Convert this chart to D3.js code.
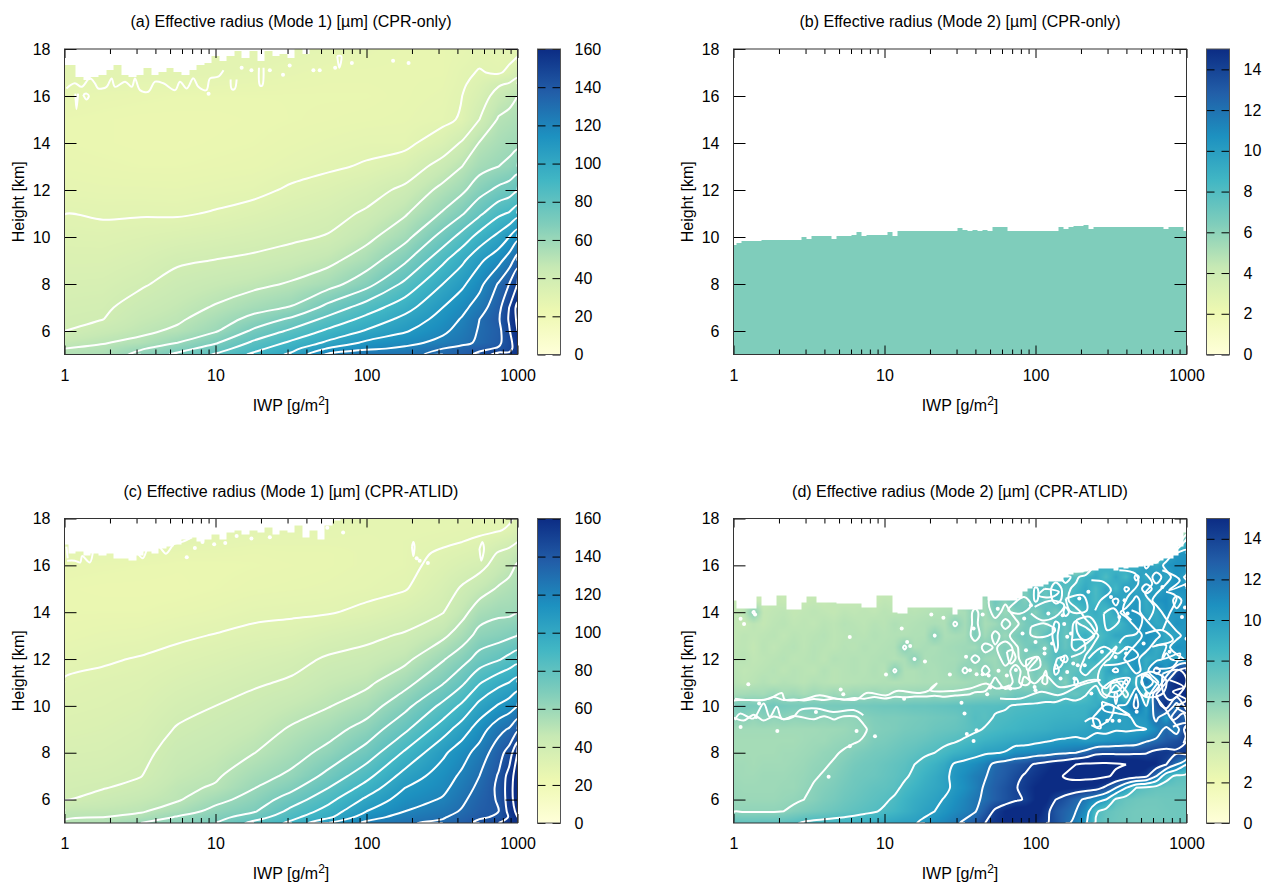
<!DOCTYPE html>
<html>
<head>
<meta charset="utf-8">
<script src="https://cdn.jsdelivr.net/npm/d3@7"></script>
<style>
  body { margin: 0; background: #fff; }
  svg { display: block; }
  text { font-family: "Liberation Sans", Arial, sans-serif; fill: #000; }
</style>
</head>
<body>
<svg id="chart" width="1263" height="883"></svg>
<script>
const paletteColors = ['#ffffd9', '#edf8b1', '#c7e9b4', '#7fcdbb', '#41b6c4', '#1d91c0', '#225ea8', '#0c2c84']

const majorIwp = [1, 10, 100, 1000]
const minorIwp = [2, 3, 4, 5, 6, 7, 8, 9, 20, 30, 40, 50, 60, 70, 80, 90, 200, 300, 400, 500, 600, 700, 800, 900]
const heightTicks = [6, 8, 10, 12, 14, 16, 18]
const mode1BarTicks = [0, 20, 40, 60, 80, 100, 120, 140, 160]
const mode2BarTicks = [0, 2, 4, 6, 8, 10, 12, 14]
const mode1Levels = [30, 40, 50, 60, 70, 80, 90, 100, 110, 120, 130, 140, 150, 160]
const mode2Levels = [6, 8, 10, 12, 14, 16]

// mode 1 grids: one list per IWP column, heights going up
const iwpMode1 = [1, 1.8, 3.2, 5.6, 10, 18, 32, 56, 100, 180, 320, 430, 560, 750, 880, 1000]
const heightsMode1 = [5, 5.25, 5.5, 6, 6.5, 7, 8, 9, 10, 11, 12, 13, 14, 15, 16, 16.5, 17, 17.5, 18]

const radiusA = [
  [52, 50, 46.7, 40, 39, 38, 36, 34, 32, 29.9, 27.5, 26, 25, 25, 27, 28, 29, 29, 29],
  [54, 52, 49.5, 44.5, 39.9, 38.7, 36.4, 34, 31.7, 29.4, 27, 25.5, 24.5, 24.5, 26, 28, 29, 29, 29],
  [63, 59, 52.5, 48, 45.7, 43.3, 39, 35.8, 32.7, 29.5, 27, 25, 24, 24, 25.5, 28, 29, 29, 29],
  [72, 66, 60, 51.7, 48.5, 46.6, 42.9, 38.9, 34, 29.3, 26.8, 25, 24, 24, 25, 28, 29, 29, 29],
  [81, 75, 69, 59, 55, 50.8, 45.4, 40.2, 35.3, 30.5, 27.5, 25.5, 24.5, 24, 25, 27, 29, 29, 29],
  [92, 87, 82, 72, 63, 56.5, 47.6, 41.6, 36.8, 32.5, 28.3, 26, 25, 24.5, 25, 26.5, 28, 29, 29],
  [102, 97, 92, 82, 72, 60.7, 51, 44, 38.5, 34.8, 31, 27.5, 26, 25, 25, 26, 27, 28, 29],
  [122, 111, 102, 92, 83, 73.4, 56, 47.6, 40.6, 36.9, 33, 29, 27, 25.5, 25, 25.5, 26, 27, 28],
  [128, 118, 112, 101, 93, 85, 66.3, 55, 47.4, 41.2, 36.3, 30.7, 28, 26, 25, 25.5, 26, 26.5, 27],
  [128, 122, 117, 109, 103, 96, 82.4, 68.4, 56.9, 49, 42, 34.2, 28, 26.5, 26, 26, 26, 26, 26],
  [132, 130, 123, 118, 114, 110, 100, 88, 73.8, 61, 52.8, 43.8, 34.4, 28, 27, 26.5, 26, 26, 26],
  [137, 134, 127, 124, 121, 117, 108, 98, 84, 69, 58, 50, 41, 31, 30, 29, 28.5, 27.5, 27],
  [142, 138, 132, 131, 130, 125, 117, 108, 94, 78, 66, 56.5, 50.5, 40, 35, 33, 30.5, 29, 28],
  [155, 141, 138, 137, 139, 137, 131, 117, 103, 88, 72.5, 60, 55, 51, 44, 39, 29, 28, 28],
  [152, 147, 146, 149, 151, 150, 140, 125, 110, 91, 75, 62, 57, 52.5, 47, 41, 32, 29, 28],
  [158, 155, 157, 160, 162, 163, 150, 135, 117, 96, 79, 65.5, 58, 54, 50, 43, 37.5, 31, 28]
]

const radiusC = [
  [51, 49, 47.5, 39.5, 38.5, 37.5, 35.5, 33.5, 32, 30.6, 28, 26, 25, 24.5, 26, 28, 29, 29, 29],
  [52, 50, 47.5, 43, 39.6, 38, 36, 34.3, 32.7, 31.5, 29.3, 27, 25, 24, 25.5, 28, 29, 29, 29],
  [60, 53, 49, 46, 42.5, 39.8, 37.8, 35.9, 34, 32.3, 30.4, 27.5, 25, 24, 25, 27.5, 29, 29, 29],
  [65, 61, 55, 49, 48, 46, 43.5, 40.6, 37.6, 34.8, 31.9, 29, 26, 24, 24.5, 26, 29, 29, 29],
  [70, 66.5, 63, 57, 51, 48.8, 45.9, 43, 40, 36.8, 33.5, 30.3, 27, 25, 24.5, 26, 28, 29, 29],
  [83, 75, 69, 64, 59.7, 56.3, 49.8, 45.9, 42.5, 39, 35.5, 31.7, 28.5, 26, 25, 25.5, 27, 29, 29],
  [92, 87.5, 83, 75, 67.7, 62, 56, 51, 46, 41, 37.5, 32.6, 29, 26.5, 25.5, 26, 27, 28.5, 29],
  [110, 98, 94, 87, 80, 73, 63, 56, 49.5, 45.3, 41, 35.5, 29.5, 27, 26, 26, 27, 28, 28.5],
  [122, 116, 110, 102, 94, 87, 74, 64, 55, 48, 43, 38, 31.5, 28, 27, 27, 27, 27.5, 28],
  [129, 124, 120, 115, 110, 104, 91.5, 78, 67, 56.5, 47.6, 41, 35, 29.5, 28, 28, 28, 27.5, 28],
  [132, 129, 126, 121, 117.5, 115, 108, 95.5, 82.5, 69, 59, 48, 39.6, 36, 32.5, 31, 29, 28, 28],
  [137, 134, 131, 128, 125, 122, 116, 105, 92, 78, 66, 55, 47, 41, 35, 32.5, 30, 28.5, 28],
  [142, 139, 137, 135, 132.5, 130, 124, 115, 103, 89, 74, 63.5, 55, 46, 37, 34, 31, 29, 28],
  [150, 141, 140, 141, 142, 141, 136, 127, 111, 97, 79, 66, 58, 51, 44, 41, 35, 29.5, 28],
  [158, 151, 153, 155, 155, 154, 144, 131, 115, 100, 83, 68, 58, 53, 47, 43, 37, 31, 29],
  [158, 160, 163, 166, 167, 166, 160, 138, 120, 104, 86, 70, 59.5, 55, 51, 47, 40, 35, 31]
]

// highest height with data, one reading every 0.05 decade of IWP
const topEdgeA = [17.3, 17.3, 16.8, 16.7, 16.8, 16.9, 17.1, 17.3, 16.9, 16.8, 16.9, 17.2, 16.9, 17, 17.2, 17, 16.9, 17.1, 17.3, 17.4,
  17.7, 17.5, 17.7, 17.9, 17.6, 17.9, 17.5, 17.9, 17.7, 17.8, 17.6, 18, 17.8, 18, 18, 18, 18, 18, 18, 18,
  18, 18, 18, 18, 18, 18, 18, 18, 18, 18, 18, 18, 18, 18, 18, 18, 18, 18, 18, 18, 18]
const topEdgeC = [16.9, 16.5, 16.6, 16.4, 16.5, 16.4, 16.5, 16.3, 16.3, 16.2, 16.4, 16.6, 16.5, 16.7, 16.8, 16.9, 17.1, 17.2, 17, 17.1,
  17.3, 17.1, 17.4, 17.5, 17.3, 17.5, 17.4, 17.6, 17.3, 17.5, 17.4, 17.7, 17.2, 17.5, 17.1, 17.7, 17.9, 18, 18, 18,
  18, 18, 18, 18, 18, 18, 18, 18, 18, 18, 18, 18, 18, 18, 18, 18, 18, 18, 18, 18, 18]

// small wavy contour pieces and specks the grids are too coarse for, [IWP, height]
const ripplesA = [
  [[1.03, 16.32], [1.17, 16.54], [1.3, 16.39], [1.47, 16.75], [1.59, 16.54], [1.67, 16.32], [1.9, 16.39], [2.05, 16.75], [2.16, 16.39], [2.52, 16.61], [2.79, 16.39], [2.93, 16.75], [3.16, 16.25], [3.59, 16.18], [3.98, 16.61], [4.52, 16.54], [5.4, 16.25], [5.82, 16.61], [6.45, 16.32], [7.13, 16.75], [7.7, 16.39], [8.7, 16.25], [9.2, 16.75], [10.4, 16.82], [11.3, 17.1]],
  [[1.18, 16.1], [1.2, 15.45], [1.23, 16.1]],
  [[1.33, 16.05], [1.4, 16.1], [1.45, 16], [1.4, 15.85], [1.33, 16.05]],
  [[12.6, 16.7], [12.8, 16.3], [13.4, 16.3], [13.8, 16.7]],
  [[19.4, 17.2], [19.7, 16.45], [20.4, 16.45], [20.8, 17.2]],
  [[64, 17.7], [66, 17.2], [68, 17.7], [64, 17.7]]
]
const specksA = [[9, 16.1], [14.9, 17.2], [17.3, 17.1], [22.9, 17.1], [28, 16.9], [31, 17.3], [44.5, 17.1], [49, 17.1], [62, 17.2], [80, 17.4], [150, 17.5], [190, 17.4]]
const ripplesC = [
  [[1.04, 16.2], [1.17, 16.2], [1.27, 16.12], [1.31, 16.4], [1.47, 16.12], [1.55, 16.7]],
  [[1.03, 16.8], [1.05, 16.3]],
  [[3, 16.6], [3.3, 16.3], [3.6, 16.75], [4.2, 16.8], [4.7, 16.5], [5.3, 16.9], [6, 17], [7, 17.2]],
  [[560, 16.7], [575, 16.2], [600, 16.7], [585, 17], [560, 16.7]],
  [[200, 16.8], [204, 16.4], [208, 16.8], [204, 17], [200, 16.8]]
]
const specksC = [[7.3, 16.74], [6.45, 16.35], [8.2, 17], [9.8, 16.9], [11.6, 16.95], [13.8, 17.25], [17.3, 17.15], [22.9, 17.2], [215, 16.3], [225, 16.2], [255, 16.1], [55, 17.6], [70, 17.4]]

// panel b is almost one flat value
const iwpB = [1, 1000]
const heightsB = [5, 18]
const radiusB = [[6.42, 6.42], [6.42, 6.42]]
const topEdgeB = [9.66, 9.75, 9.83, 9.84, 9.84, 9.83, 9.86, 9.88, 9.88, 9.88, 9.89, 9.89, 9.87, 9.86, 10, 9.9, 10.03, 10.03, 10.03, 10.03,
  9.92, 10.03, 10.05, 10.06, 10.08, 10.2, 10.06, 10.07, 10.08, 10.08, 10.07, 10.22, 10.06, 10.27, 10.27, 10.26, 10.26, 10.26, 10.27, 10.26,
  10.26, 10.26, 10.25, 10.24, 10.27, 10.4, 10.28, 10.27, 10.28, 10.27, 10.28, 10.27, 10.44, 10.44, 10.42, 10.26, 10.26, 10.26, 10.26, 10.27,
  10.26, 10.26, 10.26, 10.26, 10.27, 10.44, 10.35, 10.44, 10.45, 10.46, 10.5, 10.33, 10.43, 10.43, 10.43, 10.43, 10.43, 10.43, 10.43, 10.43,
  10.43, 10.43, 10.43, 10.43, 10.43, 10.43, 10.33, 10.42, 10.44, 10.42, 10.27]

// panel d: one list per height, top of the plot first, 46 IWP columns each
const iwpD = [1, 1.17, 1.36, 1.58, 1.85, 2.15, 2.51, 2.93, 3.41, 3.98, 4.64, 5.41, 6.31, 7.36, 8.58, 10, 11.7, 13.6, 15.8, 18.5, 21.5, 25.1, 29.3, 34.1, 39.8, 46.4, 54.1, 63.1, 73.6, 85.8, 100, 117, 136, 158, 185, 215, 251, 293, 341, 398, 464, 541, 631, 736, 858, 1000]
const heightsD = [5, 5.5, 6, 6.5, 7, 7.5, 8, 8.5, 9, 9.5, 10, 10.5, 11, 11.5, 12, 12.5, 13, 13.5, 14, 14.5, 15, 15.5, 16, 16.5, 17, 17.5, 18]
const radiusD = [
  [4.3, 4.3, 4.3, 4.3, 4.3, 4.3, 4.3, 4.3, 4.3, 4.3, 4.3, 4.3, 4.3, 4.3, 4.3, 4.3, 4.3, 4.3, 4.3, 4.3, 4.3, 4.3, 4.3, 4.3, 4.3, 4.3, 4.3, 4.3, 4.3, 4.3, 4.3, 4.3, 4.3, 4.3, 4.3, 4.3, 4.3, 4.3, 4.3, 4.3, 4.3, 4.3, 4.3, 4.3, 4.3, 4.3],
  [4.3, 4.3, 4.3, 4.3, 4.3, 4.3, 4.3, 4.3, 4.3, 4.3, 4.3, 4.3, 4.3, 4.3, 4.3, 4.3, 4.3, 4.3, 4.3, 4.3, 4.3, 4.3, 4.3, 4.3, 4.3, 4.3, 4.3, 4.3, 4.3, 4.3, 4.3, 4.3, 4.3, 4.3, 4.3, 4.3, 4.3, 4.3, 4.3, 4.3, 4.3, 4.3, 4.3, 4.3, 4.3, 4.3],
  [4.3, 4.3, 4.3, 4.3, 4.3, 4.3, 4.3, 4.3, 4.3, 4.3, 4.3, 4.3, 4.3, 4.3, 4.3, 4.3, 4.3, 4.3, 4.3, 4.3, 4.3, 4.3, 4.3, 4.3, 4.3, 4.3, 4.3, 4.3, 4.3, 4.3, 4.3, 4.3, 4.3, 4.3, 4.3, 4.3, 4.3, 4.3, 4.3, 4.3, 4.3, 4.3, 4.3, 4.3, 4.3, 9],
  [4.3, 4.3, 4.3, 4.3, 4.3, 4.3, 4.3, 4.3, 4.3, 4.3, 4.3, 4.3, 4.3, 4.3, 4.3, 4.3, 4.3, 4.3, 4.3, 4.3, 4.3, 4.3, 4.3, 4.3, 4.3, 4.3, 4.3, 4.3, 4.3, 4.3, 4.3, 4.3, 4.3, 4.3, 4.3, 4.3, 4.3, 4.3, 4.3, 4.3, 4.3, 4.3, 4.3, 9.2, 10.3, 10.5],
  [4.3, 4.3, 4.3, 4.3, 4.3, 4.3, 4.3, 4.3, 4.3, 4.3, 4.3, 4.3, 4.3, 4.3, 4.3, 4.3, 4.3, 4.3, 4.3, 4.3, 4.3, 4.3, 4.3, 4.3, 4.3, 4.3, 4.3, 4.3, 4.3, 4.3, 4.3, 4.3, 4.3, 4.3, 4.3, 4.3, 8.5, 9.2, 8.3, 9.5, 8.6, 10.3, 9.2, 10.4, 10.7, 10.8],
  [4.3, 4.3, 4.3, 4.3, 4.3, 4.3, 4.3, 4.3, 4.3, 4.3, 4.3, 4.3, 4.3, 4.3, 4.3, 4.3, 4.3, 4.3, 4.3, 4.3, 4.3, 4.3, 4.3, 4.3, 4.3, 4.3, 4.3, 4.3, 6.6, 7.3, 6.7, 8.2, 7.5, 8.4, 7.6, 8.8, 9.2, 8.1, 9.4, 8.4, 10.3, 9.2, 10.5, 9.5, 10.6, 9.8],
  [4.3, 4.3, 4.3, 4.3, 4.3, 4.3, 4.3, 4.3, 4.3, 4.3, 4.3, 4.3, 4.3, 4.3, 4.3, 4.3, 4.3, 4.3, 4.3, 4.3, 4.3, 4.3, 4.3, 4.5, 5.5, 6.3, 5.6, 6.6, 7.2, 6.5, 8.2, 7.3, 8.6, 7.6, 8.4, 9.3, 8.2, 9.6, 8.5, 10.3, 9.3, 10.5, 9.6, 10.4, 10.7, 10.6],
  [4.3, 4.4, 4.3, 4.2, 4.4, 4.3, 4.5, 4.3, 4.4, 4.3, 4.5, 4.3, 4.4, 4.4, 4.3, 4.5, 4.4, 4.4, 4.5, 4.6, 4.6, 4.7, 4.6, 6.2, 5.3, 5.4, 7, 6.2, 7.3, 6.4, 8.2, 7.1, 8.4, 7.6, 8.9, 9.2, 8.3, 9.4, 10.3, 9.1, 10.4, 9.2, 10.5, 10.8, 9.6, 10.4],
  [4.4, 4.6, 6.2, 4.4, 4.5, 4.6, 4.4, 4.5, 4.6, 4.5, 4.4, 4.6, 4.5, 4.6, 4.5, 4.7, 4.6, 4.8, 4.7, 4.8, 4.9, 5, 5.1, 5.2, 6.3, 5.3, 6.5, 5.6, 6.4, 7.1, 6.2, 7.7, 6.8, 8.3, 7.4, 8.6, 9.1, 8.2, 9.6, 10.5, 10.4, 9.4, 9.3, 10.6, 10.2, 10.8],
  [4.5, 4.3, 4.6, 4.4, 4.6, 4.7, 4.5, 4.6, 4.5, 4.7, 4.6, 4.8, 4.7, 4.6, 4.8, 4.7, 5, 4.8, 4.9, 5, 5.1, 5, 6.2, 5.3, 6.3, 5.2, 5.5, 6.3, 5.7, 6.6, 7.2, 6.4, 8.3, 7.4, 8.2, 7.6, 8.5, 9.1, 8.2, 9.3, 10.4, 10.3, 9.4, 9.6, 10.6, 10.3],
  [4.4, 4.6, 4.5, 4.6, 4.7, 4.5, 4.7, 4.6, 4.7, 4.8, 4.6, 4.7, 4.8, 4.7, 4.9, 4.8, 4.9, 4.9, 5, 5, 6.1, 5.1, 5.2, 5.3, 6.5, 5.4, 6.3, 5.6, 6.5, 6.9, 6.1, 7.6, 8.2, 7.2, 8.4, 9, 7.8, 8.6, 9.5, 9.4, 9.2, 10.6, 10.4, 9.3, 9.6, 10.5],
  [4.5, 4.6, 4.4, 4.7, 4.5, 4.7, 4.8, 4.6, 4.8, 4.7, 4.6, 4.8, 4.7, 4.9, 4.8, 4.9, 5, 6.2, 5, 5.2, 5.1, 5.3, 5.4, 5.5, 5.4, 6.3, 5.9, 6.4, 5.8, 6.6, 7.1, 6.3, 8.2, 7.3, 8.4, 7.6, 8.3, 9.2, 7.9, 9.3, 10.3, 10.5, 9.2, 9.6, 10.7, 10.4],
  [4.6, 4.7, 4.5, 4.6, 4.7, 4.8, 4.6, 4.7, 4.8, 4.6, 4.9, 4.8, 4.9, 4.8, 4.9, 5, 4.9, 5.1, 6.1, 5.1, 5.2, 5.3, 5.3, 5.5, 6.3, 5.6, 5.5, 6.4, 5.7, 6.5, 5.8, 7, 7.7, 8.3, 6.9, 8.2, 9, 7.7, 8.6, 10.3, 10.4, 9.1, 9.4, 10.4, 9.5, 10.2],
  [4.7, 4.5, 4.6, 4.7, 4.8, 4.6, 4.8, 4.7, 4.6, 4.9, 4.7, 4.8, 4.9, 4.8, 5, 4.8, 6.2, 5, 5, 5.2, 5.1, 5.3, 5.4, 6.2, 5.4, 6.3, 5.6, 5.7, 6.3, 5.7, 6.8, 6, 8.4, 7.2, 7.5, 8.6, 7.4, 9.2, 10.4, 8.6, 10.6, 9.2, 13, 10.3, 14, 15],
  [4.8, 4.6, 4.7, 4.9, 4.7, 4.9, 4.8, 4.7, 4.9, 4.8, 4.7, 4.8, 4.8, 4.9, 4.9, 5, 4.9, 5, 5, 5.1, 5.1, 5.2, 5.2, 5.3, 5.5, 5.4, 6.3, 5.5, 6.2, 5.7, 6.4, 5.8, 7.2, 6.3, 8.3, 7, 7.6, 9, 7.3, 10.5, 8, 12, 9, 14, 15, 16],
  [5.2, 5.3, 5.4, 5.3, 5.7, 5.3, 5.5, 5.2, 5.5, 5.3, 5.6, 5.3, 5.6, 5.5, 5.7, 5.4, 5.7, 5.6, 5.7, 5.7, 5.8, 5.6, 5.8, 5.9, 6.1, 6.2, 6.3, 6.4, 6.9, 7, 6.9, 7.2, 7, 7.6, 7.2, 7.9, 9, 7, 10.5, 7, 12, 7.5, 14, 14, 15, 15],
  [6.6, 6.7, 6.6, 6.7, 6.9, 6.7, 6.6, 6.7, 6.7, 6.7, 6.7, 6.8, 6.8, 6.8, 6.9, 7, 7, 7.1, 7.2, 7.2, 7.3, 7.4, 7.5, 7.6, 7.7, 7.8, 7.8, 7.9, 8.1, 8.2, 8.3, 8.4, 8.5, 8.6, 8.7, 8.8, 9, 10.3, 9.9, 10.4, 12.5, 10, 13, 15, 11, 15],
  [6, 6.2, 5.8, 6.2, 5.9, 6.1, 5.9, 6, 6.1, 5.9, 6.1, 5.9, 5.9, 6.2, 6.4, 6.5, 6.5, 6.6, 6.7, 6.8, 6.9, 7, 7.1, 7.4, 7.9, 7.7, 8.1, 8.2, 8.4, 8.5, 8.6, 8.7, 8.8, 8.9, 8.9, 9, 10.4, 10.2, 9.8, 9.8, 10.2, 10.4, 12.5, 10, 14, 12],
  [5.4, 5.4, 5.4, 5.4, 5.4, 5.4, 5.4, 5.4, 5.4, 5.5, 5.5, 5.6, 5.8, 5.9, 6.3, 6.4, 6.5, 6.7, 6.8, 6.9, 7.1, 7.2, 7.3, 7.5, 7.8, 8.1, 8.3, 8.5, 8.6, 8.8, 8.9, 9, 9.2, 9.3, 9.4, 9.6, 9.9, 9.7, 9.9, 9.8, 9.9, 10, 11, 12.5, 11, 15],
  [5.3, 5.3, 5.3, 5.3, 5.3, 5.3, 5.3, 5.4, 5.5, 5.5, 5.7, 5.8, 5.9, 6.1, 6.5, 6.6, 6.8, 7, 7.1, 7.3, 7.5, 7.7, 7.9, 8.2, 8.5, 8.8, 9, 9.2, 9.4, 9.5, 9.7, 9.9, 10.1, 10.2, 10.3, 10.1, 10.2, 10.5, 10.7, 10.9, 11.1, 11.9, 12.3, 13, 13.5, 14],
  [5.3, 5.3, 5.3, 5.3, 5.3, 5.4, 5.4, 5.5, 5.6, 5.8, 5.9, 6.1, 6.4, 6.6, 6.8, 6.9, 7.1, 7.3, 7.5, 7.8, 8, 8.4, 8.8, 9.1, 9.4, 9.8, 9.9, 10.1, 10.8, 10.9, 11.1, 11.3, 11.6, 11.8, 12, 12.5, 13.6, 13.7, 13.7, 13.7, 13.8, 13.9, 14.5, 14.5, 14.2, 14.5],
  [5.4, 5.4, 5.3, 5.4, 5.4, 5.4, 5.5, 5.6, 5.8, 5.9, 6.1, 6.4, 6.7, 6.9, 7, 7.2, 7.4, 7.6, 8, 8.4, 8.8, 9.3, 10.2, 10.5, 10.9, 11.4, 12.4, 12.8, 13.1, 13.5, 14.2, 14.6, 15, 15.4, 16, 16.3, 16.3, 16.3, 16.2, 16, 15.7, 15.3, 15, 14, 12, 10],
  [5.5, 5.4, 5.4, 5.5, 5.5, 5.5, 5.6, 5.7, 5.9, 6.1, 6.3, 6.6, 6.9, 7, 7.1, 7.3, 7.5, 7.8, 8.3, 8.8, 9.2, 9.7, 10.4, 10.9, 11.5, 11.9, 12.6, 13, 13.6, 14.2, 14.6, 15, 15.5, 16.2, 16.5, 16.5, 16.4, 16.2, 15.7, 15.2, 14.8, 14.3, 12, 8.6, 7.7, 7.5],
  [5.6, 5.5, 5.5, 5.5, 5.5, 5.6, 5.6, 5.8, 6.1, 6.3, 6.5, 6.8, 7, 7.2, 7.4, 7.5, 7.7, 8.3, 8.7, 9.1, 9.4, 9.7, 10.3, 10.8, 11.4, 12.2, 12.8, 13.3, 13.9, 14.4, 15, 15.2, 15.3, 15.2, 15, 14.8, 14.6, 13.6, 12, 10, 8, 7.6, 7.3, 7.2, 7.2, 7.2],
  [5.7, 5.6, 5.6, 5.6, 5.6, 5.7, 5.8, 6, 6.2, 6.5, 6.7, 7, 7.2, 7.4, 7.6, 7.8, 8.2, 8.7, 9.1, 9.4, 9.7, 10.1, 10.7, 11.2, 11.8, 12.2, 12.8, 13.3, 13.8, 14.1, 15, 15.2, 14, 13.3, 12.5, 11.7, 10.9, 10, 7.7, 7.2, 7, 6.9, 6.9, 7, 7, 7.1],
  [5.9, 5.9, 5.9, 5.9, 5.9, 6, 6.3, 6.5, 6.7, 6.9, 7.1, 7.3, 7.5, 7.7, 7.9, 8.2, 8.5, 8.9, 9.3, 9.7, 10, 10.5, 11, 11.4, 11.9, 13, 14.3, 15, 15.5, 15.5, 15.5, 14.5, 13.2, 12.6, 12, 10.9, 8.2, 7.4, 7.1, 6.9, 6.8, 6.8, 6.8, 6.9, 7, 7],
  [7.5, 7.4, 7.4, 7.5, 7.5, 7.6, 7.8, 8.2, 8.4, 8.5, 8.6, 8.7, 8.8, 9, 9.2, 9.4, 9.6, 9.8, 9.9, 10.3, 10.8, 11.2, 11.7, 12.3, 13, 14, 14.6, 15, 15, 15, 14.8, 14.2, 13.4, 12.4, 11.5, 10.2, 7.8, 7.2, 7, 6.9, 6.8, 6.8, 6.9, 6.9, 7, 7]
]
const topEdgeD = [14.5, 14.15, 14.15, 14.15, 14.15, 14.65, 14.3, 14.3, 14.3, 14.7, 14.7, 14.1, 14.1, 14.1, 14.4, 14.65, 14.65, 14.4, 14.4, 14.4,
  14.4, 14.35, 14.35, 14.35, 14.35, 14.35, 14.2, 14.2, 14.2, 14.7, 14.7, 14.7, 14, 13.93, 13.93, 14.2, 14.2, 14.2, 14.2, 14.2,
  14.2, 14.2, 14.2, 14.2, 13.9, 14.1, 14.1, 14.1, 14.1, 14.1, 14.65, 14.5, 14.5, 14.5, 14.5, 14.5, 14.5, 14.6, 14.9, 15,
  15.1, 15.1, 15.2, 15.3, 15.3, 15.3, 15.5, 15.6, 15.7, 15.7, 15.75, 15.8, 15.8, 15.85, 15.85, 15.85, 15.8, 15.9, 15.85, 15.9,
  15.9, 15.95, 16, 16, 16.1, 16.2, 16.3, 16.3, 16.4, 16.8, 17.4]

// panel d wiggles and specks as [log10 IWP, height]
const ripplesD = [
  [[0.01, 9.39], [0.043, 9.67], [0.13, 9.46], [0.2, 10.1], [0.24, 9.53], [0.286, 9.96], [0.32, 9.46], [0.396, 9.53], [0.44, 9.82], [0.55, 9.89], [0.66, 9.74], [0.794, 9.82], [0.86, 9.6]],
  [[0.01, 10.31], [0.13, 10.24], [0.24, 10.31], [0.32, 10.55], [0.34, 10.27], [0.46, 10.27], [0.57, 10.45], [0.68, 10.31], [0.816, 10.27], [0.88, 10.55], [1.015, 10.45], [1.08, 10.64], [1.235, 10.55], [1.3, 10.67], [1.345, 10.95], [1.3, 10.67], [1.455, 10.64], [1.566, 10.74], [1.677, 10.95], [1.74, 10.74], [1.83, 10.88]],
  [[2.06, 15], [2.155, 14.87], [2.11, 14.65], [2.02, 14.72], [2.06, 15]],
  [[2.2, 14.58], [2.315, 14.72], [2.34, 14.08], [2.235, 14.01], [2.2, 14.58]],
  [[2.37, 15.36], [2.45, 15.29], [2.5, 14.94], [2.43, 14.5], [2.395, 14.08]],
  [[2.555, 15.79], [2.66, 15.65], [2.68, 15.22], [2.61, 14.65], [2.58, 14.08], [2.635, 13.66]],
  [[2.727, 15.65], [2.773, 15.22], [2.727, 14.8], [2.785, 14.23], [2.75, 13.66]],
  [[2.84, 15.79], [2.955, 15.36], [2.885, 14.94], [3, 15.22]],
  [[2.865, 14.87], [2.934, 14.65], [2.888, 13.94], [2.842, 13.23]],
  [[2.452, 13.94], [2.52, 14.16], [2.555, 13.66], [2.475, 13.23], [2.452, 13.94]],
  [[2.636, 14.08], [2.705, 13.8], [2.67, 13.09], [2.59, 12.95], [2.555, 12.67]],
  [[2.27, 13.66], [2.36, 13.8], [2.407, 13.23], [2.326, 12.81], [2.28, 13.09], [2.27, 13.66]],
  [[1.994, 14.23], [2.11, 14.5], [2.19, 14.3], [2.13, 13.8], [2.04, 13.66], [1.97, 13.94]],
  [[2.727, 13.09], [2.842, 13.23], [2.91, 12.81], [2.8, 12.59]],
  [[1.97, 13.37], [2.06, 13.52], [2.13, 13.23], [2.06, 12.95], [1.97, 13.02], [1.97, 13.37]],
  [[1.857, 14.37], [1.925, 14.65], [1.97, 14.3], [1.9, 13.94], [1.82, 14.08], [1.857, 14.37]],
  [[1.81, 12.31], [1.845, 12.38], [1.868, 12.02], [1.834, 11.81], [1.81, 12.31]],
  [[1.937, 11.95], [2.017, 12.09], [2.03, 11.67], [1.948, 11.53], [1.937, 11.95]],
  [[2.143, 12.02], [2.189, 12.09], [2.166, 11.67], [2.13, 11.6], [2.143, 12.02]],
  [[2.235, 12.8], [2.315, 12.8], [2.326, 12.38], [2.235, 12.09]],
  [[2.35, 12.02], [2.452, 12.52], [2.544, 12.24], [2.613, 12.52], [2.68, 12.16], [2.567, 11.81], [2.452, 11.74]],
  [[2.773, 12.52], [2.865, 12.59], [2.842, 12.02], [2.957, 12.24], [2.91, 11.67], [2.796, 11.6]],
  [[1.765, 10.81], [1.834, 10.74], [1.9, 10.81], [1.925, 11.24], [1.994, 10.96], [2.063, 11.31], [2.155, 10.81], [2.29, 10.96], [2.36, 11.1], [2.43, 11.1]],
  [[1.765, 10.32], [1.9, 10.32], [2.04, 10.6], [2.155, 10.46], [2.3, 10.89], [2.43, 11.1]],
  [[2.44, 10.74], [2.52, 11.1], [2.625, 11.17], [2.6, 10.81], [2.544, 10.39], [2.45, 10.53], [2.44, 10.74]],
  [[2.5, 10.96], [2.58, 11.03], [2.555, 10.67], [2.5, 10.6], [2.5, 10.96]],
  [[2.67, 11.24], [2.773, 11.45], [2.865, 11.1], [2.842, 10.53], [2.727, 10.39], [2.67, 10.81], [2.67, 11.24]],
  [[2.705, 11.38], [2.82, 10.81], [2.75, 10.53], [2.705, 11.1], [2.705, 11.38]],
  [[2.842, 11.38], [2.957, 11.53], [3, 11.1], [2.957, 10.53], [2.888, 10.25], [2.842, 10.67], [2.842, 11.38]],
  [[2.796, 10.39], [2.865, 9.82], [2.91, 9.4], [2.98, 9.68], [3, 9.25]],
  [[2.888, 11.1], [2.98, 10.81], [2.91, 10.6], [3, 10.25], [2.934, 9.96], [3, 9.68]],
  [[2.91, 9.11], [3, 9.25], [3, 8.83], [2.98, 8.4]],
  [[2.44, 10.18], [2.452, 9.82], [2.544, 9.68], [2.624, 9.61], [2.5, 10.03], [2.44, 10.18]],
  [[2.326, 9.32], [2.37, 9.47], [2.418, 9.4], [2.43, 9.04], [2.37, 9.18]]
]
const specksD = [[0.143, 13.9], [0.047, 13.72], [0.07, 13.5], [0.098, 10.92], [0.77, 12.94], [1.114, 13.3], [1.15, 12.73], [1.17, 12.56], [1.268, 11.9], [1.01, 11.34],
  [1.433, 11.34], [1.31, 13.9], [1.39, 13.76], [1.59, 13.3], [1.65, 13.9], [1.75, 14.15], [1.61, 11.35], [1.65, 11.35], [1.69, 11.3], [1.755, 11.5],
  [1.81, 11.3], [1.566, 11.52], [1.54, 12.1], [0.71, 10.7], [0.727, 10.5], [1.13, 10.3], [1.68, 10.5], [1.7, 10.78], [1.51, 10.13], [1.53, 9.67],
  [1.61, 8.96], [1.59, 8.5], [1.545, 8.8], [0.815, 8.93], [0.937, 8.7], [0.77, 8.28], [0.63, 6.97], [0.047, 9.1], [0.29, 8.93], [0.17, 10.1],
  [0.546, 9.74], [0.15, 9.53], [2.18, 13.87], [2.19, 13.5], [2.29, 14.58], [2.35, 14.87], [2.5, 14.65], [2.59, 14.51], [2.61, 13.94], [2.555, 13.8],
  [2.84, 15.08], [3, 15.15], [2.99, 14.2], [2.235, 13.09], [2.12, 13.3], [1.925, 13.73], [1.914, 13.09], [2.085, 13.94], [1.97, 14.3], [2.97, 13.8],
  [1.937, 12.38], [2, 12.73], [2.06, 12.45], [2.06, 12.24], [2.11, 12.66], [2.21, 12.95], [2.25, 11.81], [2.28, 11.74], [2.326, 11.74], [2.44, 12.31],
  [2.6, 12.45], [2.6, 12.24], [2.53, 12.09], [2.716, 12.66], [2.888, 12.31], [3, 12.87], [1.87, 11.53], [2, 10.67], [1.834, 10.74], [1.994, 10.81],
  [2.166, 11.17], [2.258, 11.17], [2.21, 11.45], [2.37, 10.53], [2.475, 9.37], [2.51, 9.37], [2.555, 9.37], [2.67, 9.75]]

const plotWidth = 453

const svg = d3.select('#chart')
const fromLog = p => [Math.pow(10, p[0]), p[1]]

function columnsToFlat (columns) {
  const flat = []
  for (let j = 0; j < columns[0].length; j++) {
    columns.forEach(col => flat.push(col[j]))
  }
  return flat
}

function makeColor (maxValue) {
  return d3.scaleLinear()
    .domain(paletteColors.map((c, i) => maxValue * i / 7))
    .range(paletteColors)
    .clamp(true)
}

// turn a contour ring into open pieces, leaving out what runs along the grid border
function ringPieces (ring, nx, ny) {
  const onBorder = (p, q) => (p[0] === 0 && q[0] === 0) || (p[0] === nx && q[0] === nx) ||
    (p[1] === 0 && q[1] === 0) || (p[1] === ny && q[1] === ny)
  const n = ring.length - 1
  let start = -1
  for (let i = 0; i < n; i++) {
    if (onBorder(ring[i], ring[i + 1])) { start = i + 1; break }
  }
  if (start < 0) return [{closed: true, points: ring.slice(0, n)}]

  const pieces = []
  let current = []
  for (let k = 0; k < n; k++) {
    const p = ring[(start + k) % n]
    const q = ring[(start + k + 1) % n]
    current.push(p)
    if (onBorder(p, q)) {
      if (current.length > 1) pieces.push({closed: false, points: current})
      current = []
    }
  }
  return pieces
}

function drawPanel (opts) {
  const {left, top, plotHeight, title, iwp, heights, values, edge, levels, maxValue, barTicks, ripples, specks} = opts
  const x = d3.scaleLog().domain([1, 1000]).range([left, left + plotWidth])
  const y = d3.scaleLinear().domain([5, 18]).range([top + plotHeight, top])
  const color = makeColor(maxValue)
  const nx = iwp.length
  const ny = heights.length

  // pixel position of each grid index, straight between neighbours
  const xIndex = d3.scaleLinear().domain(iwp.map(d => x(d))).range(d3.range(nx)).clamp(true)
  const yIndex = d3.scaleLinear().domain(heights.map(d => y(d))).range(d3.range(ny)).clamp(true)
  const xOfIndex = d3.scaleLinear().domain(d3.range(nx)).range(iwp.map(d => x(d)))
  const yOfIndex = d3.scaleLinear().domain(d3.range(ny)).range(heights.map(d => y(d)))
  const edgeStep = 3 / (edge.length - 1)

  const canvasHeight = Math.ceil(plotHeight)
  const canvas = document.createElement('canvas')
  canvas.width = plotWidth
  canvas.height = canvasHeight
  const ctx = canvas.getContext('2d')
  const image = ctx.createImageData(plotWidth, canvasHeight)
  for (let py = 0; py < canvasHeight; py++) {
    const yPos = top + py + 0.5
    const h = y.invert(yPos)
    const fy = yIndex(yPos)
    const j0 = Math.min(Math.floor(fy), ny - 2)
    const ty = fy - j0
    for (let px = 0; px < plotWidth; px++) {
      const xPos = left + px + 0.5
      const decade = Math.log10(x.invert(xPos))
      if (h > edge[Math.round(decade / edgeStep)]) continue
      const fx = xIndex(xPos)
      const i0 = Math.min(Math.floor(fx), nx - 2)
      const tx = fx - i0
      const v = (values[j0 * nx + i0] * (1 - tx) + values[j0 * nx + i0 + 1] * tx) * (1 - ty) +
        (values[(j0 + 1) * nx + i0] * (1 - tx) + values[(j0 + 1) * nx + i0 + 1] * tx) * ty
      const c = d3.rgb(color(v))
      const k = (py * plotWidth + px) * 4
      image.data[k] = c.r
      image.data[k + 1] = c.g
      image.data[k + 2] = c.b
      image.data[k + 3] = 255
    }
  }
  ctx.putImageData(image, 0, 0)

  const panel = svg.append('g')
  const clipId = 'clip' + Math.round(left) + Math.round(top)
  panel.append('clipPath').attr('id', clipId)
    .append('rect')
    .attr('x', left)
    .attr('y', top)
    .attr('width', plotWidth)
    .attr('height', plotHeight)

  panel.append('image')
    .attr('x', left)
    .attr('y', top)
    .attr('width', plotWidth)
    .attr('height', canvasHeight)
    .attr('clip-path', 'url(#' + clipId + ')')
    .attr('href', canvas.toDataURL())

  const lines = panel.append('g')
    .attr('clip-path', 'url(#' + clipId + ')')
    .attr('fill', 'none')
    .attr('stroke', '#fff')
    .attr('stroke-width', 2)
    .attr('stroke-linejoin', 'round')

  const toPixel = p => [
    xOfIndex(Math.max(0, Math.min(nx - 1, p[0] - 0.5))),
    yOfIndex(Math.max(0, Math.min(ny - 1, p[1] - 0.5)))
  ]
  const openLine = d3.line().curve(d3.curveCatmullRom.alpha(0.5))
  const closedLine = d3.line().curve(d3.curveCatmullRomClosed.alpha(0.5))

  d3.contours().size([nx, ny]).thresholds(levels)(values).forEach(contour => {
    contour.coordinates.forEach(polygon => {
      polygon.forEach(ring => {
        ringPieces(ring, nx, ny).forEach(piece => {
          const pts = piece.points.map(toPixel)
          lines.append('path').attr('d', piece.closed ? closedLine(pts) : openLine(pts))
        })
      })
    })
  })

  const rippleLine = d3.line().x(d => x(d[0])).y(d => y(d[1])).curve(d3.curveCatmullRom.alpha(0.5))
  ripples.forEach(r => lines.append('path').attr('d', rippleLine(r)))
  specks.forEach(s => {
    lines.append('circle')
      .attr('cx', x(s[0]))
      .attr('cy', y(s[1]))
      .attr('r', 2)
      .attr('fill', '#fff')
      .attr('stroke', 'none')
  })

  // ticks point into the plot on all four sides
  const addAxis = (axis, tx, ty, labelled) => {
    const g = panel.append('g')
      .attr('transform', 'translate(' + tx + ',' + ty + ')')
      .call(axis)
    g.attr('font-size', 16).attr('font-family', '"Liberation Sans", Arial, sans-serif')
    g.select('.domain').remove()
    g.selectAll('line').attr('stroke', '#000').attr('stroke-width', 1)
    g.selectAll('text').attr('fill', '#000')
    if (!labelled) g.selectAll('text').remove()
  }
  const iwpFormat = d3.format('d')
  addAxis(d3.axisBottom(x).tickValues(majorIwp).tickSize(-9).tickPadding(15).tickFormat(iwpFormat), 0, top + plotHeight, true)
  addAxis(d3.axisBottom(x).tickValues(minorIwp).tickSize(-5), 0, top + plotHeight, false)
  addAxis(d3.axisTop(x).tickValues(majorIwp).tickSize(-9), 0, top, false)
  addAxis(d3.axisTop(x).tickValues(minorIwp).tickSize(-5), 0, top, false)
  addAxis(d3.axisLeft(y).tickValues(heightTicks).tickSize(-12).tickPadding(14), left, 0, true)
  addAxis(d3.axisRight(y).tickValues(heightTicks).tickSize(-12), left + plotWidth, 0, false)

  panel.append('rect')
    .attr('x', left)
    .attr('y', top)
    .attr('width', plotWidth)
    .attr('height', plotHeight)
    .attr('fill', 'none')
    .attr('stroke', '#333')
    .attr('stroke-width', 1)

  // labels
  panel.append('text')
    .attr('x', left + plotWidth / 2)
    .attr('y', top - 22)
    .attr('text-anchor', 'middle')
    .attr('font-size', 16)
    .text(title)
  const xLabel = panel.append('text')
    .attr('x', left + plotWidth / 2)
    .attr('y', top + plotHeight + 56)
    .attr('text-anchor', 'middle')
    .attr('font-size', 16)
  xLabel.append('tspan').text('IWP [g/m')
  xLabel.append('tspan').attr('dy', -6).attr('font-size', 12).text('2')
  xLabel.append('tspan').attr('dy', 6).text(']')
  panel.append('text')
    .attr('transform', 'translate(' + (left - 41) + ',' + (top + plotHeight / 2) + ') rotate(-90)')
    .attr('text-anchor', 'middle')
    .attr('font-size', 16)
    .text('Height [km]')

  // colour bar
  const barLeft = left + plotWidth + 20
  const barWidth = 23
  const barY = d3.scaleLinear().domain([0, maxValue]).range([top + plotHeight, top])
  const gradId = 'grad' + Math.round(left) + Math.round(top)
  const grad = panel.append('defs').append('linearGradient')
    .attr('id', gradId)
    .attr('x1', 0).attr('y1', 1).attr('x2', 0).attr('y2', 0)
  paletteColors.forEach((c, i) => {
    grad.append('stop').attr('offset', i / 7).attr('stop-color', c)
  })
  panel.append('rect')
    .attr('x', barLeft)
    .attr('y', top)
    .attr('width', barWidth)
    .attr('height', plotHeight)
    .attr('fill', 'url(#' + gradId + ')')
  addAxis(d3.axisRight(barY).tickValues(barTicks).tickSize(8), barLeft, 0, false)
  addAxis(d3.axisLeft(barY).tickValues(barTicks).tickSize(8), barLeft + barWidth, 0, false)
  addAxis(d3.axisRight(barY).tickValues(barTicks).tickSize(0).tickPadding(14), barLeft + barWidth, 0, true)
  panel.append('rect')
    .attr('x', barLeft)
    .attr('y', top)
    .attr('width', barWidth)
    .attr('height', plotHeight)
    .attr('fill', 'none')
    .attr('stroke', '#555')
    .attr('stroke-width', 1)
}

drawPanel({
  left: 64.5, top: 49, plotHeight: 305.5, title: '(a) Effective radius (Mode 1) [µm] (CPR-only)',
  iwp: iwpMode1, heights: heightsMode1, values: columnsToFlat(radiusA), edge: topEdgeA,
  levels: mode1Levels, maxValue: 160, barTicks: mode1BarTicks, ripples: ripplesA, specks: specksA
})
drawPanel({
  left: 733.5, top: 49, plotHeight: 305.5, title: '(b) Effective radius (Mode 2) [µm] (CPR-only)',
  iwp: iwpB, heights: heightsB, values: columnsToFlat(radiusB), edge: topEdgeB,
  levels: mode2Levels, maxValue: 15, barTicks: mode2BarTicks, ripples: [], specks: []
})
drawPanel({
  left: 64.5, top: 518.5, plotHeight: 304.5, title: '(c) Effective radius (Mode 1) [µm] (CPR-ATLID)',
  iwp: iwpMode1, heights: heightsMode1, values: columnsToFlat(radiusC), edge: topEdgeC,
  levels: mode1Levels, maxValue: 160, barTicks: mode1BarTicks, ripples: ripplesC, specks: specksC
})
drawPanel({
  left: 733.5, top: 518.5, plotHeight: 304.5, title: '(d) Effective radius (Mode 2) [µm] (CPR-ATLID)',
  iwp: iwpD, heights: heightsD, values: radiusD.slice().reverse().flat(), edge: topEdgeD,
  levels: mode2Levels, maxValue: 15, barTicks: mode2BarTicks, ripples: ripplesD.map(r => r.map(fromLog)), specks: specksD.map(fromLog)
})
</script>
</body>
</html>
